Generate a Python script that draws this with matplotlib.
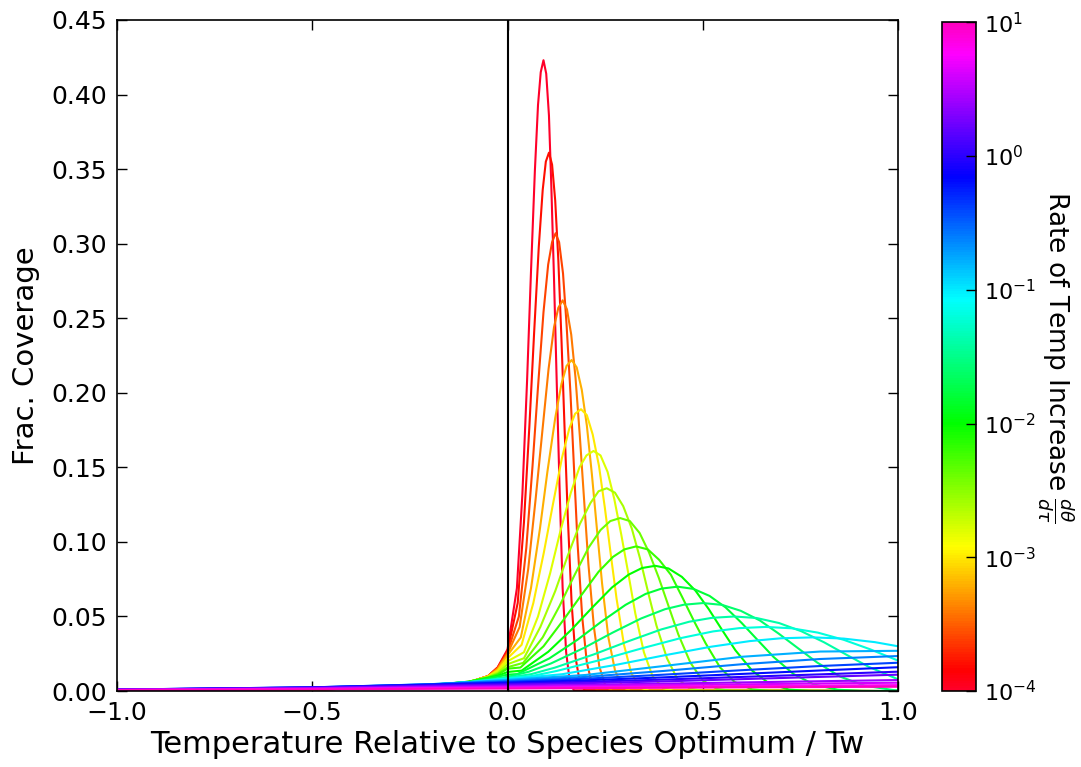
import matplotlib
matplotlib.use("Agg")
import matplotlib.pyplot as plt
from matplotlib.colors import LogNorm
from matplotlib.cm import ScalarMappable

# rate of temperature increase for each curve (colour scale)
rates = [1.0e-4, 1.6e-4, 2.5e-4, 4.0e-4, 6.3e-4, 1.0e-3, 1.6e-3, 2.5e-3, 4.0e-3,
         6.3e-3, 1.0e-2, 1.6e-2, 2.5e-2, 4.0e-2, 6.3e-2, 1.0e-1, 1.6e-1, 2.5e-1,
         4.0e-1, 6.3e-1, 1.0e0, 1.6e0, 2.5e0, 4.0e0, 6.3e0, 1.0e1]

# left tail (x < 0) of the peaked curves
tail_x = [-1.0, -0.5, -0.2, -0.1, -0.05, -0.025]
peak_tails = [
    [0.0003, 0.0010, 0.0030, 0.0058, 0.0100, 0.0160],
    [0.0003, 0.0010, 0.0030, 0.0058, 0.0100, 0.0158],
    [0.0003, 0.0010, 0.0030, 0.0058, 0.0100, 0.0155],
    [0.0003, 0.0010, 0.0030, 0.0058, 0.0100, 0.0152],
    [0.0004, 0.0012, 0.0033, 0.0060, 0.0098, 0.0145],
    [0.0004, 0.0012, 0.0033, 0.0060, 0.0098, 0.0138],
    [0.0004, 0.0012, 0.0033, 0.0060, 0.0096, 0.0130],
    [0.0004, 0.0012, 0.0033, 0.0060, 0.0094, 0.0122],
    [0.0005, 0.0015, 0.0038, 0.0063, 0.0092, 0.0115],
    [0.0005, 0.0015, 0.0038, 0.0063, 0.0090, 0.0110],
    [0.0005, 0.0015, 0.0038, 0.0062, 0.0088, 0.0102],
    [0.0005, 0.0015, 0.0038, 0.0060, 0.0084, 0.0097],
    [0.0006, 0.0018, 0.0042, 0.0060, 0.0076, 0.0086],
    [0.0006, 0.0018, 0.0042, 0.0060, 0.0074, 0.0082],
    [0.0006, 0.0018, 0.0042, 0.0059, 0.0072, 0.0079],
    [0.0006, 0.0018, 0.0042, 0.0058, 0.0070, 0.0075],
]

# x >= 0 part of the peaked curves
peak_x = [
    [0, 0.024, 0.038, 0.050, 0.060, 0.070, 0.078, 0.085, 0.092, 0.099, 0.106, 0.112, 0.119, 0.126, 0.133, 0.141, 0.150, 0.160, 0.170, 1.0],
    [0, 0.026, 0.042, 0.056, 0.068, 0.080, 0.090, 0.098, 0.106, 0.114, 0.122, 0.130, 0.138, 0.146, 0.154, 0.164, 0.174, 0.186, 0.198, 1.0],
    [0, 0.029, 0.048, 0.064, 0.078, 0.092, 0.104, 0.114, 0.123, 0.132, 0.142, 0.151, 0.161, 0.170, 0.179, 0.191, 0.203, 0.217, 0.231, 1.0],
    [0, 0.031, 0.053, 0.072, 0.089, 0.105, 0.119, 0.130, 0.141, 0.152, 0.163, 0.174, 0.185, 0.196, 0.207, 0.221, 0.235, 0.251, 0.268, 1.0],
    [0, 0.034, 0.060, 0.083, 0.102, 0.122, 0.138, 0.151, 0.164, 0.177, 0.190, 0.203, 0.216, 0.229, 0.242, 0.258, 0.275, 0.294, 0.314, 1.0],
    [0, 0.036, 0.066, 0.093, 0.116, 0.139, 0.158, 0.173, 0.188, 0.203, 0.218, 0.234, 0.249, 0.264, 0.279, 0.298, 0.317, 0.340, 0.363, 1.0],
    [0, 0.042, 0.078, 0.109, 0.135, 0.162, 0.184, 0.202, 0.220, 0.238, 0.256, 0.273, 0.291, 0.309, 0.327, 0.349, 0.371, 0.398, 0.425, 1.0],
    [0, 0.042, 0.084, 0.122, 0.153, 0.185, 0.212, 0.233, 0.254, 0.275, 0.296, 0.318, 0.339, 0.360, 0.381, 0.408, 0.434, 0.466, 0.498, 1.0],
    [0, 0.040, 0.090, 0.133, 0.170, 0.207, 0.238, 0.263, 0.288, 0.313, 0.338, 0.362, 0.387, 0.412, 0.437, 0.468, 0.499, 0.536, 0.573, 1.0],
    [0, 0.033, 0.092, 0.144, 0.188, 0.233, 0.270, 0.299, 0.329, 0.359, 0.388, 0.418, 0.447, 0.477, 0.507, 0.544, 0.581, 0.625, 0.669, 1.0],
    [0, 0.036, 0.104, 0.164, 0.216, 0.267, 0.310, 0.344, 0.378, 0.412, 0.446, 0.481, 0.515, 0.549, 0.583, 0.626, 0.669, 0.720, 0.771, 1.0],
    [0, 0.025, 0.107, 0.179, 0.240, 0.302, 0.353, 0.394, 0.435, 0.476, 0.517, 0.558, 0.599, 0.640, 0.681, 0.732, 0.784, 0.845, 0.907, 1.0],
    [0, 0.055, 0.111, 0.196, 0.269, 0.342, 0.403, 0.451, 0.500, 0.549, 0.597, 0.646, 0.694, 0.743, 0.792, 0.852, 0.913, 0.986, 1.0],
    [0, 0.060, 0.121, 0.221, 0.307, 0.393, 0.465, 0.523, 0.580, 0.637, 0.695, 0.752, 0.810, 0.867, 0.924, 1.0],
    [0, 0.063, 0.126, 0.243, 0.343, 0.443, 0.526, 0.593, 0.660, 0.727, 0.794, 0.860, 0.927, 0.994, 1.0],
    [0, 0.140, 0.280, 0.400, 0.520, 0.620, 0.700, 0.780, 0.860, 0.940, 1.0],
]
peak_y = [
    [0.028, 0.069, 0.132, 0.208, 0.281, 0.349, 0.393, 0.415, 0.423, 0.414, 0.386, 0.339, 0.276, 0.206, 0.138, 0.069, 0.026, 0.0052, 0.0005, 0.0],
    [0.027, 0.059, 0.113, 0.178, 0.240, 0.298, 0.336, 0.355, 0.361, 0.353, 0.329, 0.289, 0.236, 0.176, 0.118, 0.059, 0.0225, 0.0045, 0.0005, 0.0],
    [0.026, 0.050, 0.096, 0.151, 0.204, 0.254, 0.286, 0.301, 0.307, 0.301, 0.280, 0.246, 0.200, 0.150, 0.100, 0.050, 0.019, 0.0038, 0.0004, 0.0],
    [0.025, 0.043, 0.082, 0.129, 0.174, 0.216, 0.244, 0.257, 0.262, 0.256, 0.239, 0.210, 0.171, 0.128, 0.085, 0.043, 0.0163, 0.0032, 0.0003, 0.0],
    [0.024, 0.036, 0.069, 0.109, 0.147, 0.183, 0.206, 0.218, 0.222, 0.217, 0.202, 0.178, 0.145, 0.108, 0.072, 0.036, 0.0139, 0.0028, 0.0003, 0.0],
    [0.022, 0.031, 0.059, 0.093, 0.125, 0.156, 0.176, 0.186, 0.189, 0.185, 0.172, 0.151, 0.123, 0.092, 0.062, 0.031, 0.0118, 0.0023, 0.0002, 0.0],
    [0.020, 0.026, 0.050, 0.079, 0.107, 0.133, 0.150, 0.158, 0.161, 0.158, 0.147, 0.129, 0.105, 0.079, 0.052, 0.026, 0.010, 0.002, 0.0002, 0.0],
    [0.018, 0.022, 0.043, 0.067, 0.090, 0.112, 0.126, 0.134, 0.136, 0.133, 0.124, 0.109, 0.089, 0.066, 0.044, 0.022, 0.0085, 0.0017, 0.0002, 0.0],
    [0.016, 0.0189, 0.036, 0.057, 0.077, 0.096, 0.108, 0.114, 0.116, 0.114, 0.106, 0.093, 0.076, 0.057, 0.038, 0.019, 0.0072, 0.0014, 0.0002, 0.0],
    [0.015, 0.0158, 0.030, 0.048, 0.064, 0.080, 0.090, 0.095, 0.097, 0.095, 0.088, 0.078, 0.063, 0.047, 0.032, 0.0158, 0.0061, 0.0012, 0.0001, 0.0],
    [0.0128, 0.0137, 0.0263, 0.0413, 0.0558, 0.0694, 0.0781, 0.0825, 0.084, 0.0822, 0.0766, 0.0673, 0.0549, 0.0410, 0.0274, 0.0137, 0.0052, 0.0010, 0.0001, 0.0],
    [0.011, 0.0114, 0.0219, 0.0344, 0.0465, 0.0578, 0.0651, 0.0687, 0.070, 0.0685, 0.0638, 0.0561, 0.0457, 0.0342, 0.0228, 0.0114, 0.0044, 0.0009, 0.0001, 0.0],
    [0.0095, 0.013, 0.0185, 0.0290, 0.0392, 0.0487, 0.0549, 0.0579, 0.059, 0.0578, 0.0538, 0.0473, 0.0385, 0.0288, 0.0192, 0.0096, 0.0037, 0.0007, 0.0005],
    [0.009, 0.0113, 0.0157, 0.0246, 0.0332, 0.0413, 0.0465, 0.0491, 0.050, 0.0490, 0.0456, 0.0401, 0.0327, 0.0244, 0.0163, 0.0078],
    [0.0085, 0.0101, 0.0135, 0.0212, 0.0286, 0.0355, 0.040, 0.0422, 0.043, 0.0421, 0.0392, 0.0344, 0.0281, 0.0210, 0.0206],
    [0.008, 0.0113, 0.0177, 0.0239, 0.0297, 0.0335, 0.0354, 0.036, 0.0352, 0.0328, 0.030],
]

# slowly rising curves for the fastest rates
flat_x = [-1.0, -0.5, -0.2, 0.0, 0.2, 0.4, 0.6, 0.8, 1.0]
flat_y = [
    [0.0008, 0.0022, 0.0045, 0.0075, 0.0108, 0.0168, 0.0230, 0.0265, 0.0270],
    [0.0009, 0.0024, 0.0046, 0.0068, 0.0095, 0.0135, 0.0180, 0.0215, 0.0235],
    [0.0010, 0.0025, 0.0045, 0.0062, 0.0083, 0.0110, 0.0140, 0.0168, 0.0190],
    [0.0010, 0.0025, 0.0043, 0.0056, 0.0072, 0.0092, 0.0115, 0.0138, 0.0160],
    [0.0010, 0.0024, 0.0040, 0.0050, 0.0062, 0.0077, 0.0095, 0.0112, 0.0130],
    [0.0010, 0.0022, 0.0035, 0.0043, 0.0053, 0.0065, 0.0080, 0.0095, 0.0110],
    [0.0009, 0.0019, 0.0029, 0.0035, 0.0042, 0.0050, 0.0058, 0.0066, 0.0074],
    [0.0008, 0.0016, 0.0024, 0.0028, 0.0034, 0.0040, 0.0045, 0.0051, 0.0056],
    [0.0007, 0.0013, 0.0019, 0.0022, 0.0026, 0.0030, 0.0034, 0.0037, 0.0040],
    [0.0006, 0.0011, 0.0015, 0.0017, 0.0020, 0.0022, 0.0025, 0.0027, 0.0029],
]

norm = LogNorm(vmin=1e-4, vmax=1e1)
cmap = plt.get_cmap("gist_rainbow")

fig = plt.figure(figsize=(10.81, 7.67), dpi=100)
ax = fig.add_axes([0.108, 0.099, 0.723, 0.875])
cax = fig.add_axes([0.8714, 0.099, 0.0315, 0.872])

idx = 0
for tail, xs, ys in zip(peak_tails, peak_x, peak_y):
    ax.plot(tail_x + xs, tail + ys, color=cmap(norm(rates[idx])), lw=1.5)
    idx += 1
for ys in flat_y:
    ax.plot(flat_x, ys, color=cmap(norm(rates[idx])), lw=1.5)
    idx += 1

ax.axvline(0, color="black", lw=1.5)

ax.set_xlim(-1, 1)
ax.set_ylim(0, 0.45)
ax.set_xticks([-1.0, -0.5, 0.0, 0.5, 1.0])
ax.set_yticks([0.0, 0.05, 0.10, 0.15, 0.20, 0.25, 0.30, 0.35, 0.40, 0.45])
ax.tick_params(direction="in", top=True, right=True, length=7, width=1,
               labelsize=18, pad=7)
for s in ax.spines.values():
    s.set_linewidth(1.2)
ax.set_xlabel("Temperature Relative to Species Optimum / Tw", fontsize=22, labelpad=4)
ax.set_ylabel("Frac. Coverage", fontsize=21, labelpad=8)

sm = ScalarMappable(norm=norm, cmap=cmap)
sm.set_array([])
cb = fig.colorbar(sm, cax=cax)
cb.ax.minorticks_off()
cb.ax.tick_params(direction="in", length=7, width=1, labelsize=16, pad=6)
cb.outline.set_linewidth(1.2)
cb.set_label(r"Rate of Temp Increase $\frac{d\theta}{d\tau}$", rotation=270,
             fontsize=19, va="bottom")
cb.ax.yaxis.set_label_coords(2.72, 0.5)

plt.savefig("out.png", dpi=100)
